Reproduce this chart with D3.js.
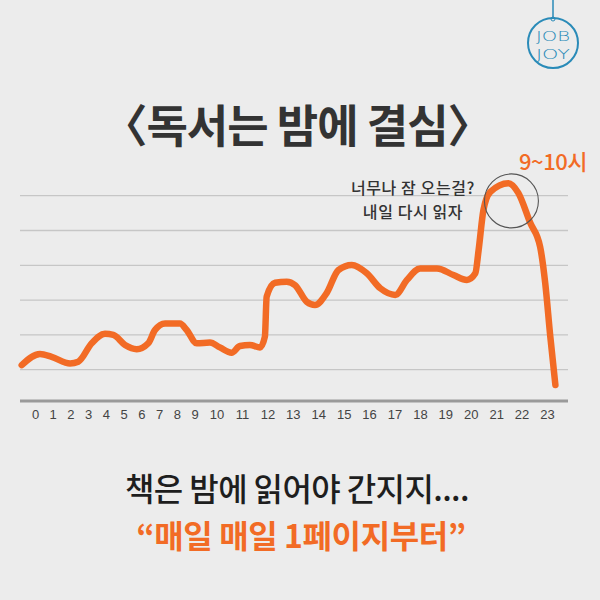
<!DOCTYPE html>
<html><head><meta charset="utf-8">
<script src="https://cdn.jsdelivr.net/npm/d3@7"></script>
<style>html,body{margin:0;padding:0;background:#ececec;}svg{display:block;}</style>
</head><body>
<script>
// ---- data ----
const hourLabels = ["0","1","2","3","4","5","6","7","8","9","10","11","12","13","14","15","16","17","18","19","20","21","22","23"];
const hourTicks = d3.range(0, 24);
const gridValues = [1, 2, 3, 4, 5, 6];
// traced curve: hour position and relative reading level
const curveHours  = [-0.75, 0.28, 0.94, 1.98, 2.44, 3.2, 3.95, 4.42, 5.08, 5.74, 6.39, 6.77, 7.34, 8.18, 8.56, 9.1, 9.7, 10.13, 10.59, 10.92, 11.31, 11.71, 11.9, 11.97, 12.3, 12.76, 13.09, 13.55, 13.87, 14.33, 14.79, 15.32, 15.91, 16.44, 17.03, 17.49, 18.01, 18.67, 19.32, 19.85, 20.18, 20.31, 20.5, 20.77, 21.48, 21.87, 22.34, 22.73, 22.93, 23.13, 23.33];
const curveValues = [1.13, 1.45, 1.37, 1.18, 1.23, 1.76, 2.03, 2.0, 1.71, 1.59, 1.76, 2.14, 2.33, 2.33, 2.14, 1.76, 1.78, 1.64, 1.49, 1.68, 1.71, 1.64, 1.95, 3.1, 3.5, 3.53, 3.43, 2.95, 2.86, 3.2, 3.86, 4.01, 3.77, 3.34, 3.15, 3.58, 3.91, 3.91, 3.72, 3.58, 3.77, 4.44, 5.59, 6.11, 6.36, 6.08, 5.22, 4.53, 3.49, 1.95, 0.56];
const titleText = "〈독서는 밤에 결심〉";
const noteLines = ["너무나 잠 오는걸?", "내일 다시 읽자"];
const peakLabel = "9~10시";
const peakHour = 21.6, peakValue = 5.85;
const subLine1 = "책은 밤에 읽어야 간지지....";
const subLine2 = "“매일 매일 1페이지부터”";
const logoLines = ["JOB", "JOY"];

const W = 600, H = 600;
const ORANGE = "#f26b25";
const KR = "'Noto Sans CJK KR', 'Noto Sans', sans-serif";

const svg = d3.select("body").append("svg").attr("width", W).attr("height", H);
svg.append("rect").attr("width", W).attr("height", H).attr("fill", "#ececec");

const plot = {left: 20, right: 568, bottom: 401};
const x = d3.scaleLinear().domain([0, 9, 10, 23]).range([35, 194.5, 216.6, 547]);
const y = d3.scaleLinear().domain([0, 6]).range([404.5, 195.7]);

// gridlines
svg.append("g").selectAll("line").data(gridValues).join("line")
  .attr("x1", plot.left).attr("x2", plot.right)
  .attr("y1", d => y(d)).attr("y2", d => y(d))
  .attr("stroke", "#c6c6c6").attr("stroke-width", 1.3);

// axis
const xAxis = d3.axisBottom(x).tickValues(hourTicks).tickFormat(d => hourLabels[d]).tickSize(0).tickPadding(9);
const ax = svg.append("g").attr("transform", `translate(0,${plot.bottom})`).call(xAxis);
ax.select(".domain").remove();
ax.selectAll("text").attr("font-family", "'Liberation Sans', Arial, sans-serif").attr("font-size", 13).attr("fill", "#444");
svg.append("line").attr("x1", plot.left).attr("x2", plot.right).attr("y1", plot.bottom).attr("y2", plot.bottom)
  .attr("stroke", "#9a9a9a").attr("stroke-width", 3);

// curve
const pts = curveHours.map((h, i) => [h, curveValues[i]]);
const line = d3.line().x(d => x(d[0])).y(d => y(d[1])).curve(d3.curveMonotoneX);
svg.append("path").attr("d", line(pts)).attr("fill", "none").attr("stroke", ORANGE)
  .attr("stroke-width", 6.5).attr("stroke-linecap", "round").attr("stroke-linejoin", "round");

// circle around peak
svg.append("circle").attr("cx", x(peakHour)).attr("cy", y(peakValue)).attr("r", 27)
  .attr("fill", "none").attr("stroke", "#555").attr("stroke-width", 1.1);

// title
svg.append("text").attr("x", 297).attr("y", 127).attr("dy", "0.36em").attr("text-anchor", "middle")
  .attr("font-family", KR).attr("font-weight", 700).attr("font-size", 45).attr("fill", "#333")
  .attr("letter-spacing", -1).text(titleText);

// annotation
svg.append("g").selectAll("text").data(noteLines).join("text")
  .attr("x", 413).attr("y", (d, i) => 188 + i * 24).attr("dy", "0.36em").attr("text-anchor", "middle")
  .attr("font-family", KR).attr("font-weight", 500).attr("font-size", 16).attr("fill", "#333")
  .attr("letter-spacing", 0.6).text(d => d);

svg.append("text").attr("x", 553).attr("y", 162).attr("dy", "0.36em").attr("text-anchor", "middle")
  .attr("font-family", KR).attr("font-weight", 500).attr("font-size", 22).attr("fill", ORANGE)
  .attr("letter-spacing", -0.5).text(peakLabel);

// bottom texts
svg.append("text").attr("x", 297).attr("y", 489).attr("dy", "0.36em").attr("text-anchor", "middle")
  .attr("font-family", KR).attr("font-weight", 500).attr("font-size", 32).attr("fill", "#1e1e1e")
  .attr("letter-spacing", -0.6).text(subLine1);
svg.append("text").attr("x", 301).attr("y", 536).attr("dy", "0.36em").attr("text-anchor", "middle")
  .attr("font-family", KR).attr("font-weight", 700).attr("font-size", 32).attr("fill", ORANGE)
  .attr("letter-spacing", -0.4).text(subLine2);

// logo
const TEAL = "#2a8bb8";
const logo = svg.append("g").attr("transform", "translate(553,43)");
logo.append("line").attr("x1", 0).attr("x2", 0).attr("y1", -43).attr("y2", -26).attr("stroke", TEAL).attr("stroke-width", 1.5);
logo.append("circle").attr("r", 25).attr("fill", "none").attr("stroke", TEAL).attr("stroke-width", 2);
logo.append("circle").attr("cy", -24).attr("r", 2).attr("fill", "none").attr("stroke", TEAL).attr("stroke-width", 1);
logo.selectAll("text.lg").data(logoLines).join("text").attr("class", "lg")
  .attr("x", 0).attr("y", (d, i) => -2 + i * 17.5).attr("text-anchor", "middle")
  .attr("font-family", "'DejaVu Sans', sans-serif").attr("font-weight", 300).attr("font-size", 14.5)
  .attr("fill", TEAL).attr("textLength", 34).attr("lengthAdjust", "spacingAndGlyphs").text(d => d);
</script>
</body></html>
